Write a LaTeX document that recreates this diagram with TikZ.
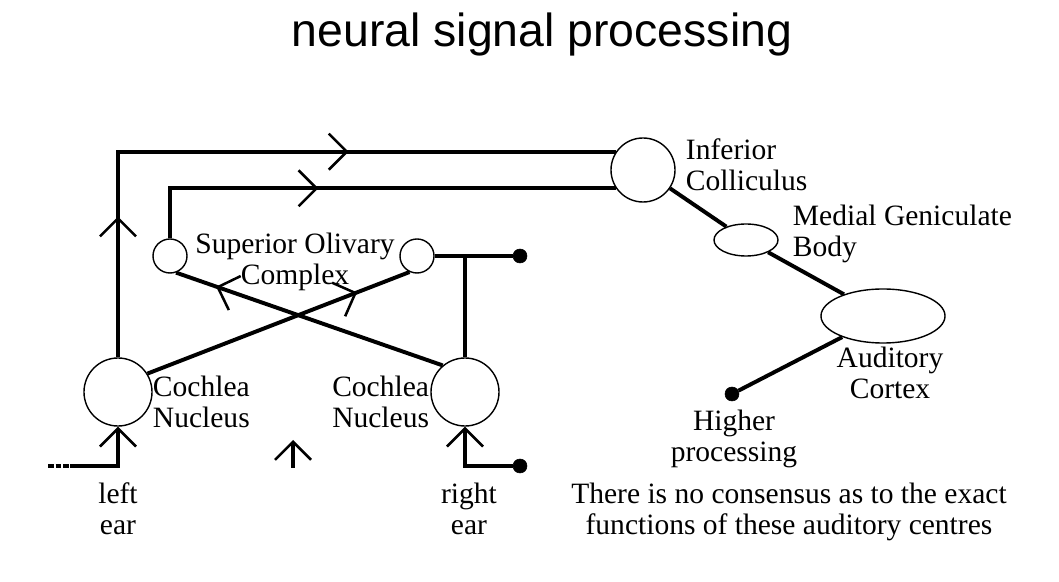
\documentclass[tikz,border=0pt]{standalone}
\usepackage{fontspec}
\setmainfont{Liberation Serif}
\newfontfamily\titlefont{Liberation Sans}
\usetikzlibrary{shapes.geometric, decorations.markings, arrows.meta}

\begin{document}
\begin{tikzpicture}[x=0.025cm, y=-0.025cm,
    every node/.style={font=\fontsize{21}{22}\selectfont, align=center},
    nucleus/.style={draw, circle, line width=1pt, inner sep=0pt},
    body/.style={draw, ellipse, line width=1pt, inner sep=0pt},
    path/.style={line width=2.8pt},
    chevron/.style={postaction={decorate, decoration={markings,
        mark=at position #1 with {\arrow[line width=1.8pt]{Straight Barb[length=0.45cm, width=0.9cm]}}}}}
  ]
  \useasboundingbox (0,0) rectangle (1059,582);
  % Title:
  \node[font=\titlefont\fontsize{33}{36}\selectfont] (title) at (542,35) {neural signal processing};

  % Nuclei and centres:
  \node[nucleus, minimum size=1.7cm] (cnl) at (118,392) {};
  \node[nucleus, minimum size=1.7cm] (cnr) at (465,392) {};
  \node[nucleus, minimum size=0.85cm] (socl) at (170,256) {};
  \node[nucleus, minimum size=0.85cm] (socr) at (417,256) {};
  \node[nucleus, minimum size=1.6cm] (ic) at (643,170) {};
  \node[body, minimum width=1.6cm, minimum height=0.8cm] (mgb) at (746,240) {};
  \node[body, minimum width=3.1cm, minimum height=1.35cm] (ac) at (883,316) {};
  \node[draw, circle, fill, inner sep=0pt, minimum size=0.35cm] (hp) at (732,394) {};
  \node[draw, circle, fill, inner sep=0pt, minimum size=0.35cm] (dtop) at (520,256) {};
  \node[draw, circle, fill, inner sep=0pt, minimum size=0.35cm] (dbot) at (520,466) {};
  \coordinate (lin) at (70,466);
  \coordinate (lend) at (48,466);
  \coordinate (mida) at (293,468);
  \coordinate (midb) at (293,440);

  % Labels:
  \node[anchor=west, align=left] (icl) at (681,165) {Inferior\\Colliculus};
  \node[anchor=west, align=left] (mgbl) at (788,234) {Medial Geniculate\\Body};
  \node (acl) at (890,373) {Auditory\\Cortex};
  \node (hpl) at (734,439) {Higher\\processing};
  \node (socl-t) at (295,262) {Superior Olivary\\Complex};
  \node[anchor=west, align=left] (cnll) at (148,402) {Cochlea\\Nucleus};
  \node[anchor=east, align=left] (cnrl) at (434,402) {Cochlea\\Nucleus};
  \node (lear) at (118,509) {left\\ear};
  \node (rear) at (469,509) {right\\ear};
  \node (note) at (789,512) {There is no consensus as to the exact\\functions of these auditory centres};

  % Pathways:
  \begin{scope}[path]
    \draw[chevron=0.2] (cnl.north) |- (ic.146);
    \draw[postaction={decorate, decoration={markings,
        mark=at position 0.62 with {\arrow[line width=1.8pt]{Straight Barb[length=0.45cm, width=0.9cm]}}}}]
      (cnl.north) |- (ic.146);
    \draw[chevron=0.4] (socl.north) |- (ic.214);
    \draw[chevron=0.8] (cnl.32) -- (socr.-115);
    \draw[chevron=0.85] (cnr.130) -- (socl.-70);
    \draw (socr.east) -- (dtop);
    \draw (cnr.north) -- (cnr.north |- dtop);
    \draw[-{Straight Barb[length=0.45cm, width=0.9cm, line width=1.8pt]}] (dbot) -| (cnr.south);
    \draw[-{Straight Barb[length=0.45cm, width=0.9cm, line width=1.8pt]}] (lin) -| (cnl.south);
    \draw[dash pattern=on 4pt off 1.5pt] (lend) -- (lin);
    \draw[-{Straight Barb[length=0.45cm, width=0.9cm, line width=1.8pt]}] (mida) -- (midb);
    \draw (ic) -- (mgb);
    \draw (mgb) -- (ac);
    \draw (ac) -- (hp);
  \end{scope}
\end{tikzpicture}
\end{document}
